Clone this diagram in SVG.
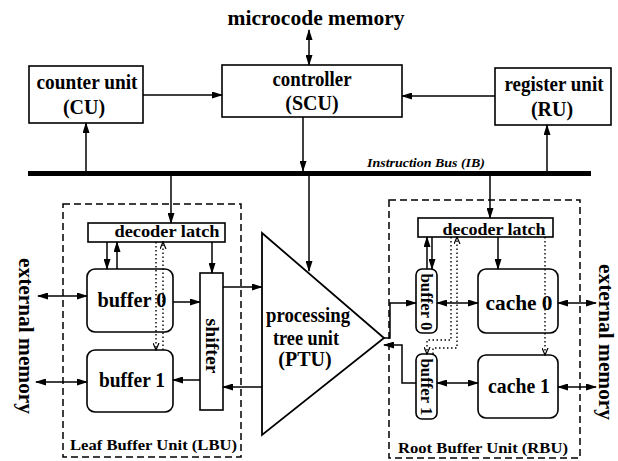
<svg xmlns="http://www.w3.org/2000/svg" width="618" height="461" viewBox="0 0 618 461">
  <style>
    .box { fill: #fff; stroke: #000; stroke-width: 1.6; }
    .unit { fill: none; stroke: #000; stroke-width: 1.5; stroke-dasharray: 7 4; }
    .ln { fill: none; stroke: #000; stroke-width: 1.5; }
    .dot { fill: none; stroke: #000; stroke-width: 1.4; stroke-dasharray: 1.5 2.5; }
    text { font-family: "Liberation Serif", "Times New Roman", serif; fill: #000; font-weight: bold; }
    .big { font-size: 20px; }
    .mid { font-size: 18px; }
    .small { font-size: 16px; }
    .cap { font-size: 15px; }
    .bus { font-size: 12.5px; font-style: italic; }
  </style>
  <defs>
    <marker id="ah" markerUnits="userSpaceOnUse" markerWidth="11" markerHeight="7" refX="10" refY="3.5" orient="auto-start-reverse">
      <path d="M0,0 L11,3.5 L0,7 z" fill="#000"/>
    </marker>
    <marker id="vh" markerUnits="userSpaceOnUse" markerWidth="8" markerHeight="7" refX="7" refY="3.5" orient="auto">
      <path d="M0,0.5 L7,3.5 L0,6.5" fill="none" stroke="#000" stroke-width="1.2"/>
    </marker>
  </defs>

  <!-- top-level label -->
  <text id="microcode" class="big" x="316" y="25" text-anchor="middle" textLength="177" lengthAdjust="spacingAndGlyphs">microcode memory</text>

  <!-- instruction bus -->
  <g id="bus">
    <rect x="28" y="171" width="563" height="5" fill="#000"/>
    <text class="bus" x="367" y="167" textLength="118" lengthAdjust="spacingAndGlyphs">Instruction Bus (IB)</text>
  </g>

  <!-- control units -->
  <g id="cu">
    <rect class="box" x="29" y="66" width="114" height="57"/>
    <text class="big" x="87" y="89" text-anchor="middle" textLength="101" lengthAdjust="spacingAndGlyphs">counter unit</text>
    <text class="big" x="84" y="114" text-anchor="middle">(CU)</text>
  </g>
  <g id="scu">
    <rect class="box" x="222" y="65" width="180" height="52"/>
    <text class="big" x="312" y="86" text-anchor="middle" textLength="79" lengthAdjust="spacingAndGlyphs">controller</text>
    <text class="big" x="312" y="110" text-anchor="middle">(SCU)</text>
  </g>
  <g id="ru">
    <rect class="box" x="495" y="68" width="116" height="57"/>
    <text class="big" x="554" y="91" text-anchor="middle" textLength="99" lengthAdjust="spacingAndGlyphs">register unit</text>
    <text class="big" x="552" y="116" text-anchor="middle">(RU)</text>
  </g>

  <!-- leaf buffer unit -->
  <g id="lbu">
    <rect class="unit" x="63" y="204" width="178" height="253"/>
    <text class="cap" x="70" y="450" textLength="167" lengthAdjust="spacingAndGlyphs">Leaf Buffer Unit (LBU)</text>
  </g>
  <g id="lbu-latch">
    <rect class="box" x="88" y="223" width="137" height="19"/>
    <text class="small" x="167" y="237" text-anchor="middle" textLength="105" lengthAdjust="spacingAndGlyphs">decoder latch</text>
  </g>
  <g id="lbu-buffer0">
    <rect class="box" x="87" y="269" width="86" height="63" rx="8"/>
    <text class="big" x="132" y="307" text-anchor="middle" textLength="69" lengthAdjust="spacingAndGlyphs">buffer 0</text>
  </g>
  <g id="lbu-buffer1">
    <rect class="box" x="87" y="350" width="86" height="62" rx="8"/>
    <text class="big" x="132" y="387" text-anchor="middle" textLength="66" lengthAdjust="spacingAndGlyphs">buffer 1</text>
  </g>
  <g id="shifter">
    <rect class="box" x="200" y="273" width="23" height="137"/>
    <text class="mid" transform="translate(206,346) rotate(90)" text-anchor="middle" textLength="55" lengthAdjust="spacingAndGlyphs">shifter</text>
  </g>

  <!-- processing tree unit -->
  <g id="ptu">
    <path d="M262,233 L384,338 L262,435 Z" fill="#fff" stroke="#000" stroke-width="1.8" stroke-linejoin="miter"/>
    <text class="big" x="308" y="322" text-anchor="middle" textLength="84" lengthAdjust="spacingAndGlyphs">processing</text>
    <text class="big" x="306" y="345" text-anchor="middle" textLength="66" lengthAdjust="spacingAndGlyphs">tree unit</text>
    <text class="big" x="305" y="366" text-anchor="middle">(PTU)</text>
  </g>

  <!-- root buffer unit -->
  <g id="rbu">
    <rect class="unit" x="389" y="200" width="191" height="258"/>
    <text class="cap" x="398" y="453" textLength="170" lengthAdjust="spacingAndGlyphs">Root Buffer Unit (RBU)</text>
  </g>
  <g id="rbu-latch">
    <rect class="box" x="418" y="218" width="135" height="19"/>
    <text class="small" x="494" y="235" text-anchor="middle" textLength="103" lengthAdjust="spacingAndGlyphs">decoder latch</text>
  </g>
  <g id="rbu-buffer0">
    <rect class="box" x="416" y="269" width="21" height="64" rx="6"/>
    <text class="small" transform="translate(421,302) rotate(90)" text-anchor="middle" textLength="57" lengthAdjust="spacingAndGlyphs">buffer 0</text>
  </g>
  <g id="rbu-buffer1">
    <rect class="box" x="416" y="354" width="21" height="65" rx="6"/>
    <text class="small" transform="translate(421,387) rotate(90)" text-anchor="middle" textLength="57" lengthAdjust="spacingAndGlyphs">buffer 1</text>
  </g>
  <g id="cache0">
    <rect class="box" x="478" y="269" width="80" height="64" rx="8"/>
    <text class="big" x="519" y="310" text-anchor="middle" textLength="67" lengthAdjust="spacingAndGlyphs">cache 0</text>
  </g>
  <g id="cache1">
    <rect class="box" x="478" y="355" width="80" height="63" rx="8"/>
    <text class="big" x="519" y="393" text-anchor="middle" textLength="62" lengthAdjust="spacingAndGlyphs">cache 1</text>
  </g>

  <!-- external memory labels -->
  <text id="ext-left" class="big" transform="translate(19,336) rotate(90)" text-anchor="middle" textLength="156" lengthAdjust="spacingAndGlyphs">external memory</text>
  <text id="ext-right" class="big" transform="translate(599,342) rotate(90)" text-anchor="middle" textLength="156" lengthAdjust="spacingAndGlyphs">external memory</text>

  <!-- connectors -->
  <g id="connectors">
    <!-- control level -->
    <line class="ln" x1="309" y1="30" x2="309" y2="65" marker-start="url(#ah)" marker-end="url(#ah)"/>
    <line class="ln" x1="143" y1="95" x2="222" y2="95" marker-end="url(#ah)"/>
    <line class="ln" x1="495" y1="96" x2="402" y2="96" marker-end="url(#ah)"/>
    <line class="ln" x1="303" y1="117" x2="303" y2="171" marker-end="url(#ah)"/>
    <line class="ln" x1="86" y1="171" x2="86" y2="123" marker-end="url(#ah)"/>
    <line class="ln" x1="547" y1="171" x2="547" y2="125" marker-end="url(#ah)"/>

    <!-- bus to units -->
    <line class="ln" x1="171" y1="176" x2="171" y2="223" marker-end="url(#ah)"/>
    <line class="ln" x1="309" y1="176" x2="309" y2="271" marker-end="url(#ah)"/>
    <line class="ln" x1="490" y1="176" x2="490" y2="218" marker-end="url(#ah)"/>

    <!-- leaf buffer unit internals -->
    <line class="ln" x1="107" y1="242" x2="107" y2="269" marker-end="url(#ah)"/>
    <line class="ln" x1="117" y1="269" x2="117" y2="242" marker-end="url(#ah)"/>
    <line class="dot" x1="156" y1="242" x2="156" y2="350" marker-end="url(#vh)"/>
    <line class="dot" x1="163" y1="350" x2="163" y2="242" marker-end="url(#vh)"/>
    <line class="ln" x1="212" y1="242" x2="212" y2="273" marker-end="url(#ah)"/>
    <line class="ln" x1="173" y1="302" x2="200" y2="302" marker-end="url(#ah)"/>
    <line class="ln" x1="200" y1="380" x2="173" y2="380" marker-end="url(#ah)"/>
    <line class="ln" x1="223" y1="287" x2="262" y2="287" marker-end="url(#ah)"/>
    <line class="ln" x1="262" y1="387" x2="223" y2="387" marker-end="url(#ah)"/>
    <line class="ln" x1="38" y1="296" x2="87" y2="296" marker-start="url(#ah)" marker-end="url(#ah)"/>
    <line class="ln" x1="36" y1="382" x2="87" y2="382" marker-start="url(#ah)" marker-end="url(#ah)"/>

    <!-- tree unit root to root buffers -->
    <path class="ln" d="M384,338 H390 V303 H416" marker-end="url(#ah)"/>
    <path class="ln" d="M416,383 H402 V345 H384" marker-end="url(#ah)"/>

    <!-- root buffer unit internals -->
    <line class="ln" x1="427" y1="269" x2="427" y2="237" marker-end="url(#ah)"/>
    <line class="ln" x1="432" y1="237" x2="432" y2="269" marker-end="url(#ah)"/>
    <line class="ln" x1="498" y1="237" x2="498" y2="269" marker-end="url(#ah)"/>
    <line class="ln" x1="437" y1="303" x2="478" y2="303" marker-start="url(#ah)" marker-end="url(#ah)"/>
    <line class="ln" x1="437" y1="383" x2="478" y2="383" marker-start="url(#ah)" marker-end="url(#ah)"/>
    <line class="ln" x1="558" y1="303" x2="596" y2="303" marker-start="url(#ah)" marker-end="url(#ah)"/>
    <line class="ln" x1="558" y1="387" x2="596" y2="387" marker-start="url(#ah)" marker-end="url(#ah)"/>
    <path class="dot" d="M451,237 V340 H427 V354" marker-end="url(#vh)"/>
    <path class="dot" d="M433,354 V348 H457 V237" marker-end="url(#vh)"/>
    <line class="dot" x1="545" y1="237" x2="545" y2="355" marker-end="url(#vh)"/>
  </g>
</svg>
